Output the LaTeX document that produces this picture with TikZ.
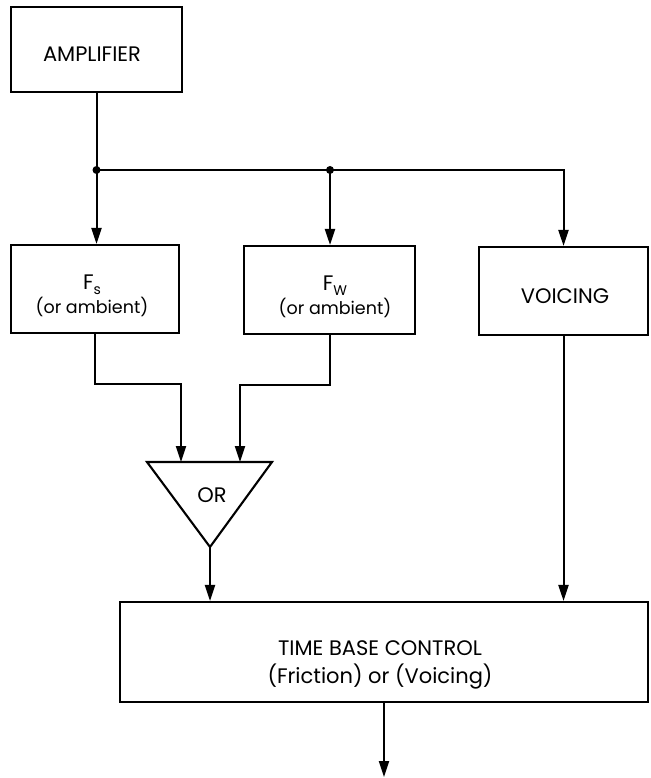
\documentclass[tikz,border=0pt]{standalone}
\usepackage{fontspec}
\setmainfont{Poppins}
\usetikzlibrary{arrows.meta,calc}
\newcommand\capfont{\fontsize{21}{26}\selectfont}
\newcommand\smfont{\fontsize{17.5}{26}\selectfont}
\newcommand\subtxt[1]{\raisebox{-0.45ex}{\fontsize{14}{14}\selectfont #1}}
\tikzset{
  blk/.style={draw, line width=2.1pt, inner sep=0pt},
  txt/.style={inner sep=0pt, align=center, font=\capfont},
  wire/.style={line width=2pt, line join=miter},
  arr/.style={wire, -{Triangle[length=16pt,width=10pt]}},
  jdot/.style={circle, fill, inner sep=0pt, minimum size=8pt}
}
\begin{document}
\begin{tikzpicture}[x=1pt,y=-1pt]
\useasboundingbox (0,0) rectangle (650,778);
% blocks
\node[blk, minimum width=171pt, minimum height=85pt] (amp) at (96.5,49.5) {};
\node[txt] (ampT) at (92,54) {AMPLIFIER};
\node[blk, minimum width=168pt, minimum height=88pt] (fs) at (95,289) {};
\node[txt] (fsT) at (92,296) {F\subtxt{s}\\[-2pt]{\smfont (or ambient)}};
\node[blk, minimum width=171pt, minimum height=88pt] (fw) at (329.5,290) {};
\node[txt] (fwT) at (335,297) {F\subtxt{W}\\[-2pt]{\smfont (or ambient)}};
\node[blk, minimum width=169pt, minimum height=88pt] (voice) at (563.5,291) {};
\node[txt] (voiceT) at (565,296) {VOICING};
\node[blk, minimum width=528pt, minimum height=100pt] (tbc) at (384,652) {};
\node[txt] (tbcT) at (380,665) {TIME BASE CONTROL\\[2pt](Friction) or (Voicing)};
% OR triangle
\coordinate (tl) at (147,462);
\coordinate (tr) at (272,462);
\coordinate (tb) at (210,547);
\draw[line width=2.1pt, line join=miter] (tl) -- (tr) -- (tb) -- cycle;
\node[txt] (or) at (212,495) {OR};
% junctions
\node[jdot] (j1) at (96.5,170) {};
\node[jdot] (j2) at (330,170) {};
\coordinate (c3) at (563.5,170);
\coordinate (fsc) at (181,384);
\coordinate (fwc) at (240,385);
\coordinate (out) at (384,777);
% connectors
\draw[arr] (amp.south) -- (j1.center) -- (fs.north -| j1);
\draw[arr] (j1.center) -- (c3) -- (voice.north);
\draw[arr] (j2.center) -- (fw.north -| j2);
\draw[arr] (fs.south) |- (fsc) -- (fsc |- tl);
\draw[arr] (fw.south) |- (fwc) -- (fwc |- tl);
\draw[arr] (tb) -- (tbc.north -| tb);
\draw[arr] (voice.south) -- (tbc.north -| voice.south);
\draw[arr] (tbc.south) -- (out);
\end{tikzpicture}
\end{document}
